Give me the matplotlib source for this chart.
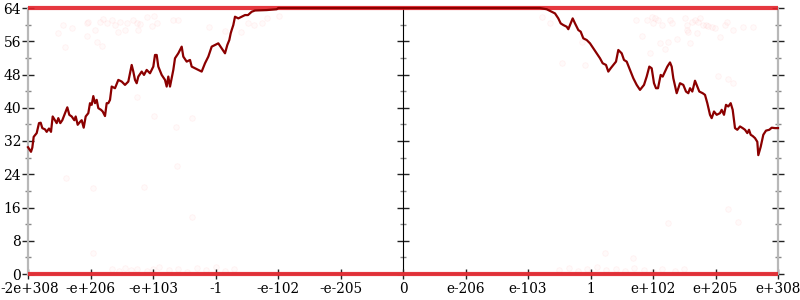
import matplotlib
matplotlib.use("Agg")
import matplotlib.pyplot as plt
from matplotlib.ticker import MultipleLocator

# x axis: evenly spaced positions standing for float values
xtick_pos = [-6, -5, -4, -3, -2, -1, 0, 1, 2, 3, 4, 5, 6]
xtick_labels = ["-2e+308", "-e+206", "-e+103", "-1", "-e-102", "-e-205", "0",
                "e-206", "e-103", "1", "e+102", "e+205", "e+308"]
ytick_pos = [0, 8, 16, 24, 32, 40, 48, 56, 64]

# main (dark red) line
line_x = [-6.0, -5.952, -5.931, -5.909, -5.861, -5.824, -5.797, -5.771, -5.728, -5.701,
          -5.664, -5.632, -5.605, -5.568, -5.541, -5.515, -5.483, -5.451, -5.408, -5.371,
          -5.339, -5.301, -5.259, -5.237, -5.205, -5.168, -5.141, -5.109, -5.077, -5.035,
          -5.008, -4.981, -4.955, -4.928, -4.901, -4.875, -4.832, -4.805, -4.768, -4.741,
          -4.715, -4.688, -4.661, -4.608, -4.555, -4.501, -4.448, -4.395, -4.341, -4.315,
          -4.288, -4.261, -4.235, -4.181, -4.144, -4.101, -4.048, -3.995, -3.968, -3.941,
          -3.915, -3.861, -3.808, -3.781, -3.755, -3.728, -3.675, -3.648, -3.595, -3.541,
          -3.515, -3.461, -3.408, -3.381, -3.328, -3.275, -3.221, -3.168, -3.115, -3.061,
          -3.008, -2.955, -2.901, -2.848, -2.811, -2.779, -2.757, -2.741, -2.715, -2.688,
          -2.635, -2.581, -2.528, -2.480, -2.421, -2.368, -2.181, -2.021, -1.995,
          2.192, 2.299, 2.379, 2.432, 2.485, 2.523, 2.565, 2.619, 2.645, 2.683,
          2.715, 2.752, 2.805, 2.843, 2.885, 2.939, 2.992, 3.045, 3.099, 3.152,
          3.195, 3.248, 3.285, 3.323, 3.365, 3.408, 3.445, 3.499, 3.536, 3.579,
          3.632, 3.685, 3.739, 3.792, 3.856, 3.899, 3.941, 3.979, 4.016, 4.048,
          4.080, 4.123, 4.155, 4.192, 4.229, 4.272, 4.299, 4.325, 4.379, 4.432,
          4.485, 4.528, 4.565, 4.592, 4.629, 4.672, 4.699, 4.741, 4.795, 4.832,
          4.869, 4.912, 4.939, 4.976, 5.019, 5.072, 5.099, 5.136, 5.168, 5.205,
          5.243, 5.275, 5.312, 5.349, 5.392, 5.435, 5.472, 5.509, 5.536, 5.563,
          5.595, 5.632, 5.669, 5.685, 5.723, 5.765, 5.808, 5.861, 5.899, 5.952, 6.0]
line_y = [30.5, 29.4, 30.4, 33.0, 33.9, 36.3, 36.4, 35.1, 34.8, 34.2,
          35.0, 34.2, 37.9, 37.0, 36.3, 37.5, 36.3, 37.0, 38.7, 40.1,
          38.3, 37.9, 37.0, 37.9, 35.9, 36.6, 37.0, 35.2, 37.9, 38.7,
          41.1, 40.7, 42.8, 41.1, 41.9, 39.9, 39.5, 39.1, 38.0, 41.1,
          41.1, 41.9, 45.1, 44.7, 46.7, 46.3, 45.5, 46.3, 50.3, 48.7,
          46.7, 45.9, 47.5, 48.7, 47.9, 49.1, 48.3, 49.9, 52.7, 52.7,
          49.9, 47.9, 46.7, 45.1, 47.5, 45.1, 49.1, 51.9, 53.1, 54.7,
          52.3, 51.1, 51.5, 49.9, 49.5, 49.1, 48.7, 50.7, 52.3, 54.7,
          55.1, 55.5, 54.3, 53.1, 55.1, 56.3, 57.9, 58.7, 59.9, 61.9,
          61.5, 61.9, 62.3, 62.3, 63.1, 63.4, 63.5, 63.7, 64.0,
          64.0, 63.7, 63.1, 62.7, 61.5, 60.3, 59.9, 59.5, 58.9, 60.3,
          61.5, 60.3, 58.7, 58.3, 56.7, 56.3, 55.5, 54.3, 53.1, 51.9,
          50.7, 50.3, 48.7, 49.5, 50.3, 51.1, 53.9, 53.1, 51.5, 51.1,
          49.1, 47.1, 45.5, 44.3, 45.5, 47.5, 49.9, 49.5, 45.9, 44.7,
          44.7, 47.9, 47.5, 48.7, 49.9, 50.9, 49.9, 47.1, 43.5, 45.9,
          45.5, 43.9, 43.5, 44.7, 43.9, 46.5, 45.5, 43.9, 43.5, 43.1,
          41.1, 38.3, 37.5, 39.1, 38.3, 38.7, 39.5, 38.3, 40.7, 40.3,
          41.1, 39.5, 35.1, 34.7, 35.5, 35.1, 34.7, 33.9, 34.7, 33.5,
          33.2, 32.7, 31.8, 28.6, 30.6, 33.5, 34.5, 34.7, 35.2, 35.1, 35.1]

# faint individual samples
pts_x = [-5.515, -5.435, -5.408, -5.301, -5.061, -5.051, -5.035, -4.928, -4.901, -4.848,
         -4.821, -4.795, -4.741, -4.661, -4.608, -4.555, -4.528, -4.448, -4.421, -4.315,
         -4.261, -4.235, -4.208, -4.101, -4.021, -3.984, -3.941, -3.675, -3.595, -3.099,
         -2.848, -2.592, -2.475, -2.384, -2.261, -2.171, -1.979,
         2.219, 2.352, 2.539, 2.859, 2.912,
         3.728, 3.819, 3.899, 3.952, 3.979, 4.005, 4.032, 4.085, 4.112, 4.139,
         4.192, 4.245, 4.272, 4.299, 4.379, 4.512, 4.539, 4.549, 4.565, 4.592,
         4.619, 4.672, 4.699, 4.725, 4.752, 4.805, 4.848, 4.885, 4.939, 4.992,
         5.045, 5.072, 5.152, 5.179, 5.205, 5.285, 5.285, 5.445, 5.605,
         -4.261, -3.984, -3.632, -3.381, -5.392, -4.955, -4.144, -3.611, -4.955, -3.381,
         5.205, 5.365, 4.245, 3.232, 3.685,
         -4.65, -4.55, -4.45, -4.35, -4.25, -4.1, -4.0, -3.9, -3.75, -3.6,
         -3.45, -3.3, -3.15, -3.0, -2.85, -2.7,
         2.5, 2.65, 2.8, 2.95, 3.1, 3.25, 3.4, 3.55, 3.7, 3.85, 4.0, 4.15, 4.35, 4.5]
pts_y = [58.1, 59.9, 54.7, 59.1, 60.5, 57.3, 60.7, 58.7, 55.9, 60.7,
         54.9, 61.3, 60.3, 61.1, 59.9, 58.3, 60.7, 58.7, 60.5, 61.1,
         60.3, 58.7, 60.2, 61.8, 59.7, 62.1, 60.5, 61.0, 61.0, 59.4,
         58.5, 58.3, 60.5, 59.9, 60.3, 61.5, 62.1,
         61.9, 60.3, 50.7, 55.7, 50.3,
         61.1, 57.3, 61.0, 53.2, 61.8, 60.3, 61.5, 61.1, 55.5, 59.9,
         54.1, 55.7, 61.1, 60.5, 56.5, 61.5, 59.9, 58.7, 58.3, 55.5,
         60.7, 61.0, 57.9, 60.7, 61.5, 59.9, 59.9, 59.7, 59.5, 59.1,
         47.6, 57.1, 59.9, 60.7, 46.8, 46.0, 58.7, 59.4, 59.4,
         42.7, 38.0, 35.4, 37.5, 23.0, 20.6, 21.0, 26.0, 5.1, 13.6,
         15.6, 12.6, 12.2, 5.1, 3.8,
         1.2, 0.8, 1.5, 0.9, 1.3, 0.7, 1.1, 1.6, 0.9, 1.2,
         0.6, 1.4, 1.0, 1.6, 0.8, 1.2,
         1.0, 1.4, 0.7, 1.2, 1.6, 0.9, 1.3, 0.8, 1.5, 1.0, 0.6, 1.2, 0.8, 1.1]

# saturated bands of samples at the extremes
band_levels = [0, 64]

plt.rcParams['font.family'] = ['DejaVu Serif']
fig = plt.figure(figsize=(8, 3), dpi=100)
ax = fig.add_axes([28 / 800, 26 / 300, 750 / 800, 266 / 300])
ax.set_xlim(-6, 6)
ax.set_ylim(0, 64)

ax.scatter(pts_x, pts_y, s=16, facecolor=(1, 0.3, 0.3, 0.025),
           edgecolor=(1, 0.35, 0.35, 0.07), linewidths=0.6, zorder=1, clip_on=False)

for lv in band_levels:
    ax.plot([-6, 6], [lv, lv], color='#e3222a', lw=3.0, alpha=0.9,
            solid_capstyle='butt', clip_on=False, zorder=3)

ax.plot(line_x, line_y, color='#8b0000', lw=1.6, zorder=4, clip_on=False,
        solid_joinstyle='round')

gray = '#b8b8b8'
for s in ['left', 'right', 'bottom']:
    ax.spines[s].set_color(gray)
    ax.spines[s].set_linewidth(1.6)
ax.spines['top'].set_visible(False)

ax.set_xticks(xtick_pos, labels=xtick_labels)
ax.set_yticks(ytick_pos)
ax.yaxis.set_minor_locator(MultipleLocator(4))
ax.tick_params(axis='x', direction='inout', length=7, width=1, color='#222222',
               labelsize=9.8, pad=2)
ax.tick_params(axis='y', which='major', direction='inout', length=8, width=1,
               color='#222222', labelsize=10, pad=1, left=True, right=True)
ax.tick_params(axis='y', which='minor', direction='inout', length=4.5, width=1,
               color='#888888', left=True, right=True)
labs = ax.get_xticklabels()
labs[0].set_horizontalalignment('left')
labs[0].set_x(-6.0)
for t in labs[:1]:
    t.set_transform(t.get_transform() + matplotlib.transforms.ScaledTranslation(-28 / 100, 0, fig.dpi_scale_trans))

sec = ax.secondary_yaxis(0.5)
sec.set_yticks(ytick_pos, labels=[])
sec.yaxis.set_minor_locator(MultipleLocator(4))
sec.spines['left'].set_color(gray)
sec.spines['left'].set_linewidth(1.6)
sec.tick_params(which='major', direction='inout', length=8, width=1, color='#222222')
sec.tick_params(which='minor', direction='inout', length=4.5, width=1, color='#888888')

fig.savefig('out.png', dpi=100)
